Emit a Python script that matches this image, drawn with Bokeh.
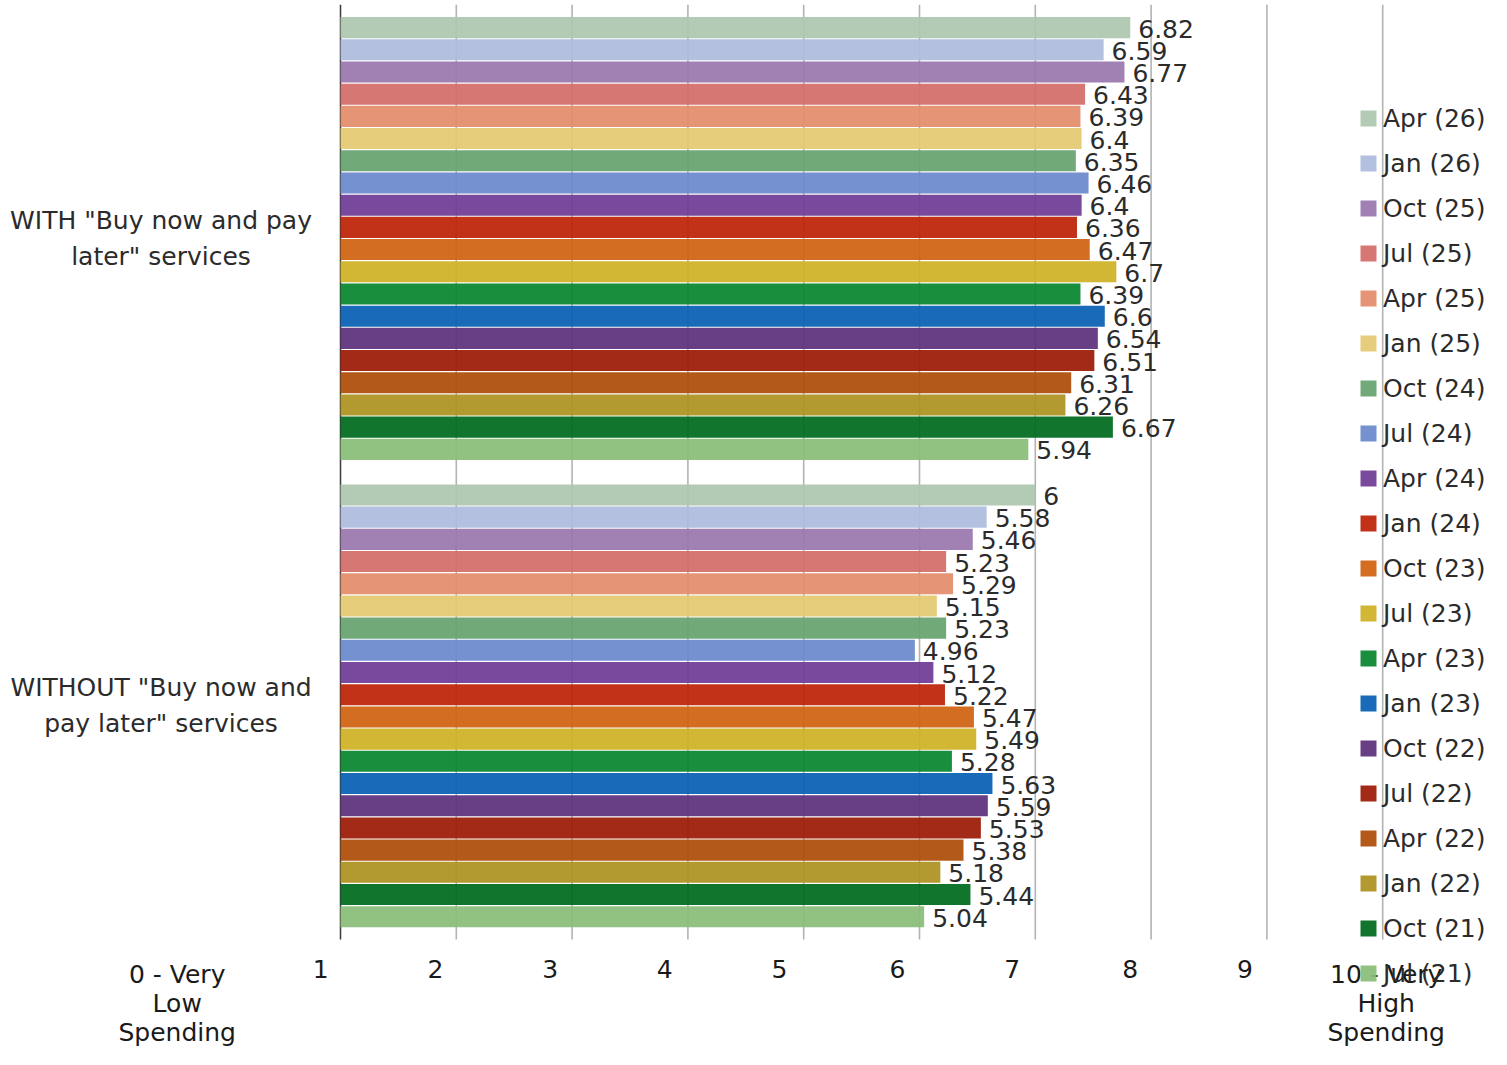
from bokeh.plotting import figure
from bokeh.models import ColumnDataSource, Range1d
from bokeh.transform import dodge
from bokeh.core.properties import value
from bokeh.embed import file_html
from bokeh.resources import INLINE

# ---------------- data ----------------
CATEGORIES = ['WITH "Buy now and pay\nlater" services',
              'WITHOUT "Buy now and\npay later" services']

SERIES = ["Apr (26)", "Jan (26)", "Oct (25)", "Jul (25)", "Apr (25)", "Jan (25)",
          "Oct (24)", "Jul (24)", "Apr (24)", "Jan (24)", "Oct (23)", "Jul (23)",
          "Apr (23)", "Jan (23)", "Oct (22)", "Jul (22)", "Apr (22)", "Jan (22)",
          "Oct (21)", "Jul (21)"]

WITH_VALUES = [6.82, 6.59, 6.77, 6.43, 6.39, 6.4, 6.35, 6.46, 6.4, 6.36,
               6.47, 6.7, 6.39, 6.6, 6.54, 6.51, 6.31, 6.26, 6.67, 5.94]

WITHOUT_VALUES = [6, 5.58, 5.46, 5.23, 5.29, 5.15, 5.23, 4.96, 5.12, 5.22,
                  5.47, 5.49, 5.28, 5.63, 5.59, 5.53, 5.38, 5.18, 5.44, 5.04]

COLORS = ["#adc6ae", "#adbbde", "#9a76ad", "#d36d69", "#e38c6b", "#e3c972",
          "#67a36f", "#6b89cb", "#6e3b94", "#bc2207", "#cf6210", "#cdb125",
          "#08862f", "#075fb3", "#5c2f7b", "#9c1a05", "#ad4e0a", "#ac9120",
          "#006a1e", "#8abd78"]

TICK_LABELS = ["0 - Very\nLow\nSpending", "1", "2", "3", "4", "5", "6", "7", "8", "9",
               "10 - Very\nHigh\nSpending"]
TICK_POS = [-1.41, -0.17, 0.82, 1.81, 2.80, 3.79, 4.81, 5.80, 6.82, 7.81, 9.03]
GRID_TICKS = [1, 2, 3, 4, 5, 6, 7, 8, 9]

# ---------------- layout constants ----------------
W, H = 1491, 1049
FONT = "DejaVu Sans"
FS = "25px"
TXT = "#2b2b2b"
GROUP_WIDTH = 0.95
N = len(SERIES)
NC = len(CATEGORIES)
STEP = GROUP_WIDTH / N
PX_X = 115.8            # pixels per x unit
PX_Y = 467.35           # pixels per category
X0_PX = 340             # pixel position of value 0
BASE_PX = 939           # pixel position of the bottom of the category area
TOP_PX = 4.3
CAT_LABEL_X = -1.55
TICK_LABEL_Y = -0.044

x_start = -X0_PX / PX_X
y_start = -(H - BASE_PX) / PX_Y
p = figure(width=W, height=H,
           x_range=Range1d(x_start, x_start + W / PX_X),
           y_range=Range1d(y_start, NC + TOP_PX / PX_Y),
           x_axis_type=None, y_axis_type=None,
           output_backend="svg", toolbar_location=None, min_border=0)
p.outline_line_color = None
p.grid.visible = False
p.background_fill_color = "white"
p.border_fill_color = "white"

# vertical grid lines (limited to the category area) and baseline
p.segment(x0=GRID_TICKS, x1=GRID_TICKS, y0=0, y1=NC, line_color="#b3b3b3", line_width=1.6)
p.segment(x0=[0], x1=[0], y0=0, y1=NC, line_color="#3a3a3a", line_width=1.5)

# bars
cat_y = [NC - j - 0.5 for j in range(NC)]
data = {"ypos": cat_y}
for i in range(N):
    vals = [WITH_VALUES[i], WITHOUT_VALUES[i]]
    data[f"v{i}"] = vals
    data[f"t{i}"] = [f"{v:g}" for v in vals]
src = ColumnDataSource(data)

for i in range(N):
    off = GROUP_WIDTH / 2 - STEP * (i + 0.5)
    p.hbar(y=dodge("ypos", off), left=0, right=f"v{i}",
           height=STEP * 0.95, source=src, fill_color=COLORS[i], fill_alpha=0.93,
           line_color=None, legend_label=SERIES[i])

# value labels
for i in range(N):
    off = GROUP_WIDTH / 2 - STEP * (i + 0.5)
    p.text(x=f"v{i}", y=dodge("ypos", off), text=f"t{i}", source=src,
           x_offset=8, y_offset=1, text_align="left", text_baseline="middle",
           text_font=value(FONT), text_font_size=FS, text_color=TXT)

# category labels
p.text(x=CAT_LABEL_X, y=cat_y, text=CATEGORIES,
       text_align="center", text_baseline="middle", text_line_height=1.23,
       text_font=value(FONT), text_font_size=FS, text_color=TXT)

# x tick labels
p.text(x=TICK_POS, y=TICK_LABEL_Y, text=TICK_LABELS,
       text_align="center", text_baseline="top", text_line_height=1.0,
       text_font=value(FONT), text_font_size=FS, text_color="#1a1a1a")

# legend
lg = p.legend[0]
lg.location = (1358, 61)
lg.padding = 0
lg.margin = 0
lg.spacing = 15
lg.label_height = 30
lg.glyph_height = 20
lg.glyph_width = 20
lg.label_standoff = 5
lg.border_line_color = None
lg.background_fill_alpha = 0
lg.label_text_font = FONT
lg.label_text_font_size = FS
lg.label_text_color = TXT

open("out.html", "w").write(file_html(p, INLINE))
